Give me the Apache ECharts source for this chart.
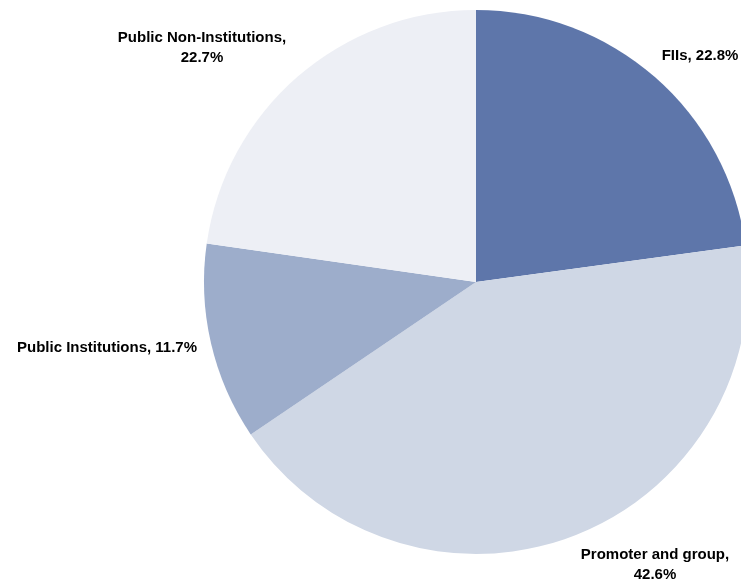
<!DOCTYPE html>
<html>
<head>
<meta charset="utf-8">
<script src="https://cdn.jsdelivr.net/npm/echarts@6/dist/echarts.min.js"></script>
<style>
  html, body { margin: 0; padding: 0; background: #ffffff; }
  #chart { width: 741px; height: 585px; }
</style>
</head>
<body>
<div id="chart"></div>
<script>
// Shareholding pattern (%)
const categories = ['FIIs', 'Promoter and group', 'Public Institutions', 'Public Non-Institutions'];
const shares = [22.8, 42.6, 11.7, 22.7];

// Slice colours, in category order
const sliceColors = ['#5e76aa', '#cfd7e5', '#9dadcb', '#edeff5'];

// Label anchors (centre x, centre y) and whether the value wraps onto a second line
const labelSpots = [
  { x: 700, y: 56, wrap: false },
  { x: 655, y: 565, wrap: true },
  { x: 107, y: 348, wrap: false },
  { x: 202, y: 48, wrap: true }
];

const chart = echarts.init(document.getElementById('chart'), null, { renderer: 'canvas' });

chart.setOption({
  backgroundColor: '#ffffff',
  animation: false,
  series: [{
    type: 'pie',
    center: [476, 282],
    radius: [0, 272],
    startAngle: 90,
    clockwise: true,
    avoidLabelOverlap: false,
    data: categories.map((name, i) => ({
      name: name,
      value: shares[i],
      itemStyle: { color: sliceColors[i] }
    })),
    itemStyle: { borderWidth: 0 },
    emphasis: { disabled: true },
    label: {
      show: true,
      position: 'outside',
      fontFamily: 'Liberation Sans, Arial, sans-serif',
      fontWeight: 'bold',
      fontSize: 15,
      lineHeight: 20,
      color: '#000000',
      align: 'center',
      formatter: function (p) {
        const sep = labelSpots[p.dataIndex].wrap ? ',\n' : ', ';
        return p.name + sep + shares[p.dataIndex].toFixed(1) + '%';
      }
    },
    labelLine: { show: false },
    labelLayout: function (params) {
      const s = labelSpots[params.dataIndex];
      return { x: s.x, y: s.y, align: 'center', verticalAlign: 'middle' };
    }
  }]
});
</script>
</body>
</html>
